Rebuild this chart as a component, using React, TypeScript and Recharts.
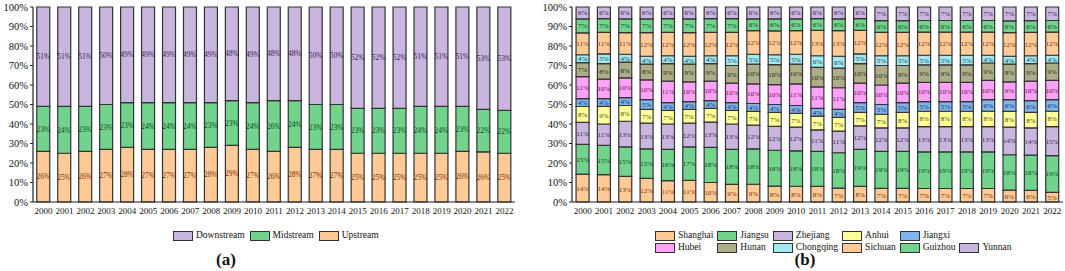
import React from 'react';
import { BarChart, Bar, XAxis, YAxis, LabelList } from 'recharts';

const years = ['2000','2001','2002','2003','2004','2005','2006','2007','2008','2009','2010','2011','2012','2013','2014','2015','2016','2017','2018','2019','2020','2021','2022'];

// Panel (a)
const upstream = [26,25,26,27,28,27,27,27,28,29,27,26,28,27,27,25,25,25,25,25,26,26,25];
const midstream = [23,24,23,23,23,24,24,24,23,23,24,26,24,23,23,23,23,23,24,24,23,22,22];
const downstream = [51,51,51,50,49,49,49,49,49,48,49,48,48,50,50,52,52,52,51,51,51,53,53];

// Panel (b)
const shanghai = [14,14,13,12,11,11,10,9,9,8,8,8,7,8,7,7,7,7,7,7,6,6,5];
const jiangsu = [15,15,15,15,16,17,18,18,18,18,18,18,18,19,19,19,19,19,19,19,18,18,19];
const zhejiang = [11,11,13,13,13,12,13,13,12,12,12,11,11,12,12,12,13,13,13,13,14,14,15];
const anhui = [8,9,8,7,7,7,7,7,7,7,7,7,7,7,7,8,8,8,8,8,8,8,8];
const jiangxi = [4,4,4,5,4,4,4,4,4,4,4,4,4,5,5,5,5,5,5,6,6,6,6];
const hubei = [11,10,10,10,11,10,10,10,10,10,11,11,11,10,10,10,10,10,10,10,9,10,10];
const hunan = [7,8,8,8,9,9,9,9,10,10,10,10,10,10,10,9,9,9,9,9,9,9,9];
const chongqing = [4,5,4,4,4,4,4,5,5,5,5,6,6,5,5,5,5,5,5,4,4,4,4];
const sichuan = [11,11,11,12,12,12,12,12,12,12,12,13,13,12,12,12,12,12,12,12,12,12,12];
const guizhou = [7,7,7,7,7,7,7,7,6,6,6,6,6,6,6,6,6,6,6,6,6,6,6];
const yunnan = [6,6,6,6,6,6,6,6,6,6,6,6,6,6,7,7,7,7,7,7,7,7,7];

const ORANGE = '#FFCA96';
const GREEN = '#72D38D';
const PURPLE = '#C9B6DE';
const ORANGE_T = '#7A2E08';
const GREEN_T = '#0A4A1C';
const PURPLE_T = '#3E2058';

type Series = { key: string; values: number[]; fill: string; text: string };

const seriesA: Series[] = [
  { key: 'Upstream', values: upstream, fill: ORANGE, text: ORANGE_T },
  { key: 'Midstream', values: midstream, fill: GREEN, text: GREEN_T },
  { key: 'Downstream', values: downstream, fill: PURPLE, text: PURPLE_T },
];
const legendA = ['Downstream', 'Midstream', 'Upstream'];

const seriesB: Series[] = [
  { key: 'Shanghai', values: shanghai, fill: ORANGE, text: ORANGE_T },
  { key: 'Jiangsu', values: jiangsu, fill: GREEN, text: GREEN_T },
  { key: 'Zhejiang', values: zhejiang, fill: PURPLE, text: PURPLE_T },
  { key: 'Anhui', values: anhui, fill: '#FFFF9A', text: '#4A4A00' },
  { key: 'Jiangxi', values: jiangxi, fill: '#80B4EA', text: '#14306A' },
  { key: 'Hubei', values: hubei, fill: '#FFA2F8', text: '#6A0A60' },
  { key: 'Hunan', values: hunan, fill: '#ADAE88', text: '#2A2A12' },
  { key: 'Chongqing', values: chongqing, fill: '#A2E9F0', text: '#0C4258' },
  { key: 'Sichuan', values: sichuan, fill: ORANGE, text: ORANGE_T },
  { key: 'Guizhou', values: guizhou, fill: GREEN, text: GREEN_T },
  { key: 'Yunnan', values: yunnan, fill: PURPLE, text: PURPLE_T },
];
const legendBRows = [
  ['Shanghai', 'Jiangsu', 'Zhejiang', 'Anhui', 'Jiangxi'],
  ['Hubei', 'Hunan', 'Chongqing', 'Sichuan', 'Guizhou', 'Yunnan'],
];

const FONT = '"Liberation Serif", "Times New Roman", serif';
const yTicks = [0, 0.1, 0.2, 0.3, 0.4, 0.5, 0.6, 0.7, 0.8, 0.9, 1];

function buildRows(series: Series[]) {
  return years.map((y, i) => {
    const row: Record<string, string | number> = { year: y };
    series.forEach((s) => { row[s.key] = s.values[i]; });
    return row;
  });
}

function Panel({ series, width, yWidth, gap, labelSize, xSize }: { series: Series[]; width: number; yWidth: number; gap: string; labelSize: number; xSize: number }) {
  const data = buildRows(series);
  return (
    <BarChart
      width={width}
      height={225}
      data={data}
      stackOffset="expand"
      barCategoryGap={gap}
      margin={{ top: 7, right: 2, left: 0, bottom: 0 }}
      style={{ fontFamily: FONT }}
    >
      <XAxis
        dataKey="year"
        height={23}
        tickLine={false}
        tickSize={2}
        tickMargin={4}
        interval={0}
        axisLine={{ stroke: '#222', strokeWidth: 1.2 }}
        tick={{ fill: '#111', fontSize: xSize, fontFamily: FONT }}
      />
      <XAxis xAxisId="top" dataKey="year" orientation="top" height={0} tick={false} tickLine={false} axisLine={{ stroke: '#444', strokeWidth: 1 }} />
      <YAxis
        width={yWidth}
        domain={[0, 1]}
        ticks={yTicks}
        interval={0}
        tickSize={3}
        tickMargin={2}
        tickFormatter={(v: number) => `${Math.round(v * 100)}%`}
        axisLine={{ stroke: '#222', strokeWidth: 1.2 }}
        tickLine={{ stroke: '#222' }}
        tick={{ fill: '#111', fontSize: 10.5, fontFamily: FONT }}
      />
      <YAxis yAxisId="right" orientation="right" width={0} tick={false} tickLine={false} axisLine={{ stroke: '#444', strokeWidth: 1 }} />
      {series.map((s) => (
        <Bar key={s.key} dataKey={s.key} stackId="s" fill={s.fill} stroke="#333" strokeWidth={1.2} isAnimationActive={false}>
          <LabelList
            dataKey={s.key}
            position="center"
            formatter={(v: any) => `${v}%`}
            style={{ fill: s.text, fontSize: labelSize, fontFamily: FONT }}
          />
        </Bar>
      ))}
    </BarChart>
  );
}

function LegendItem({ name, fill }: { name: string; fill: string }) {
  return (
    <div style={{ display: 'flex', alignItems: 'center', height: 11 }}>
      <div style={{ width: 18, height: 8, background: fill, border: '1px solid #333' }} />
      <span style={{ marginLeft: 3, fontSize: 9.5, color: '#111', fontFamily: FONT, lineHeight: '11px' }}>{name}</span>
    </div>
  );
}

const fillOf = (name: string) => (seriesB.find((s) => s.key === name) || seriesA.find((s) => s.key === name))!.fill;

export default function App() {
  return (
    <div style={{ position: 'absolute', left: 0, top: 0, width: 1065, height: 271, background: '#fff', overflow: 'hidden' }}>
      <div style={{ position: 'absolute', left: 0, top: 0 }}>
        <Panel series={seriesA} width={517} yWidth={33} gap="18%" labelSize={7.5} xSize={9} />
      </div>
      <div style={{ position: 'absolute', left: 530, top: 0 }}>
        <Panel series={seriesB} width={535} yWidth={42} gap="19%" labelSize={7} xSize={9} />
      </div>
      <div style={{ position: 'absolute', left: 173, top: 230, display: 'flex', gap: 5 }}>
        {legendA.map((n) => {
          const s = seriesA.find((x) => x.key === n)!;
          return <LegendItem key={n} name={n} fill={s.fill} />;
        })}
      </div>
      <div style={{ position: 'absolute', left: 655, top: 230, display: 'grid', gridTemplateColumns: 'repeat(6, auto)', columnGap: 4, rowGap: 1 }}>
        {legendBRows.map((row, r) =>
          row.map((n, c) => (
            <div key={n} style={{ gridRow: r + 1, gridColumn: c + 1 }}>
              <LegendItem name={n} fill={fillOf(n)} />
            </div>
          ))
        )}
      </div>
      <div style={{ position: 'absolute', left: 206, top: 250, width: 40, textAlign: 'center', fontFamily: FONT, fontWeight: 'bold', fontSize: 17, color: '#111' }}>(a)</div>
      <div style={{ position: 'absolute', left: 785, top: 250, width: 40, textAlign: 'center', fontFamily: FONT, fontWeight: 'bold', fontSize: 17, color: '#111' }}>(b)</div>
    </div>
  );
}
